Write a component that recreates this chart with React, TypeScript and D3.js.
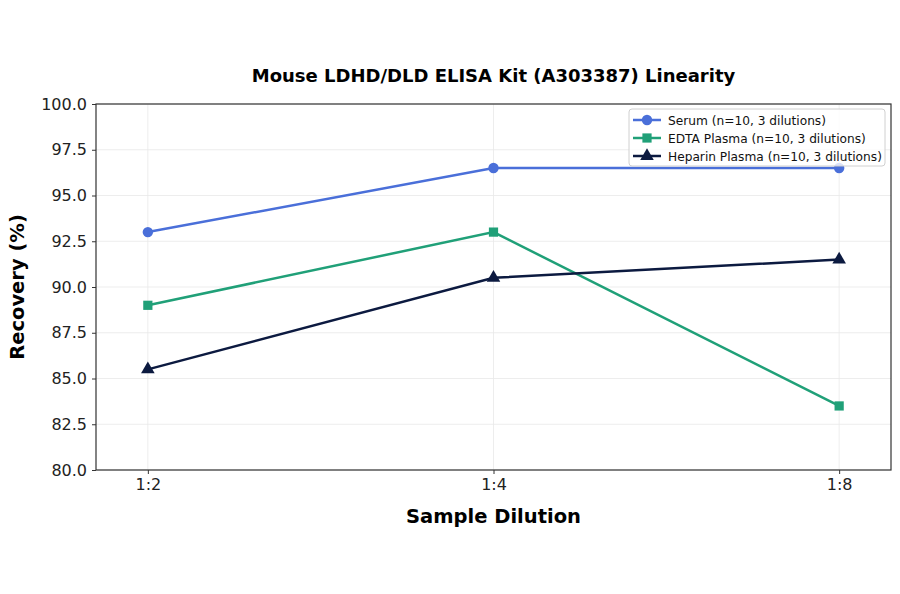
import * as d3 from "d3";
import React, { useEffect, useRef } from "react";

// chart data
const dilutions = ["1:2", "1:4", "1:8"];
const serumValues = [93.0, 96.5, 96.5];
const edtaValues = [89.0, 93.0, 83.5];
const heparinValues = [85.5, 90.5, 91.5];
const seriesNames = [
  "Serum (n=10, 3 dilutions)",
  "EDTA Plasma (n=10, 3 dilutions)",
  "Heparin Plasma (n=10, 3 dilutions)",
];
const yTicks = [80, 82.5, 85, 87.5, 90, 92.5, 95, 97.5, 100];

const width = 900;
const height = 594;
const margin = { top: 104, right: 9, bottom: 124, left: 96 };

const App: React.FC = () => {
  const svgRef = useRef<SVGSVGElement | null>(null);

  useEffect(() => {
    const svg = d3.select(svgRef.current);
    svg.selectAll("*").remove();
    svg.attr("width", width).attr("height", height).style("font-family", "'DejaVu Sans', sans-serif");

    const plotW = width - margin.left - margin.right;
    const plotH = height - margin.top - margin.bottom;

    const g = svg.append("g").attr("transform", `translate(${margin.left},${margin.top})`);

    const x = d3.scaleLinear().domain([-0.15, 2.15]).range([0, plotW]);
    const y = d3.scaleLinear().domain([80, 100]).range([plotH, 0]);

    // grid
    g.append("g")
      .selectAll("line")
      .data(yTicks)
      .enter()
      .append("line")
      .attr("x1", 0)
      .attr("x2", plotW)
      .attr("y1", (d) => y(d))
      .attr("y2", (d) => y(d))
      .attr("stroke", "#e8e8e8")
      .attr("stroke-width", 0.8);
    g.append("g")
      .selectAll("line")
      .data(dilutions)
      .enter()
      .append("line")
      .attr("x1", (_, i) => x(i))
      .attr("x2", (_, i) => x(i))
      .attr("y1", 0)
      .attr("y2", plotH)
      .attr("stroke", "#e8e8e8")
      .attr("stroke-width", 0.8);

    // series
    const series = [
      { name: seriesNames[0], values: serumValues, color: "#4a6fd9", shape: d3.symbolCircle, size: 85 },
      { name: seriesNames[1], values: edtaValues, color: "#20a078", shape: d3.symbolSquare, size: 85 },
      { name: seriesNames[2], values: heparinValues, color: "#0c1a40", shape: d3.symbolTriangle, size: 80 },
    ];

    const line = d3
      .line<number>()
      .x((_, i) => x(i))
      .y((d) => y(d));

    series.forEach((s) => {
      g.append("path")
        .attr("d", line(s.values)!)
        .attr("fill", "none")
        .attr("stroke", s.color)
        .attr("stroke-width", 2.5);
      g.selectAll(null)
        .data(s.values)
        .enter()
        .append("path")
        .attr("transform", (d, i) => `translate(${x(i)},${y(d)})`)
        .attr("d", d3.symbol().type(s.shape).size(s.size)()!)
        .attr("fill", s.color);
    });

    // frame
    g.append("rect")
      .attr("width", plotW)
      .attr("height", plotH)
      .attr("fill", "none")
      .attr("stroke", "#333")
      .attr("stroke-width", 1.2);

    // axes
    const xAxis = g
      .append("g")
      .attr("transform", `translate(0,${plotH})`)
      .call(
        d3
          .axisBottom(x)
          .tickValues([0, 1, 2])
          .tickFormat((d) => dilutions[d as number])
          .tickSizeOuter(0)
          .tickSize(4)
          .tickPadding(5)
      );
    xAxis.select(".domain").remove();
    xAxis.selectAll("line").attr("stroke", "#333");
    xAxis.selectAll("text").attr("font-size", 16).attr("fill", "#222").style("font-family", "'DejaVu Sans', sans-serif");

    const yAxis = g.append("g").call(
      d3
        .axisLeft(y)
        .tickValues(yTicks)
        .tickFormat(d3.format(".1f"))
        .tickSizeOuter(0)
        .tickSize(4)
        .tickPadding(5)
    );
    yAxis.select(".domain").remove();
    yAxis.selectAll("line").attr("stroke", "#333");
    yAxis.selectAll("text").attr("font-size", 16).attr("fill", "#222").style("font-family", "'DejaVu Sans', sans-serif");

    // title and labels
    svg
      .append("text")
      .attr("x", margin.left + plotW / 2)
      .attr("y", 82)
      .attr("text-anchor", "middle")
      .attr("font-size", 18)
      .attr("font-weight", "bold")
      .text("Mouse LDHD/DLD ELISA Kit (A303387) Linearity");

    svg
      .append("text")
      .attr("x", margin.left + plotW / 2)
      .attr("y", 523)
      .attr("text-anchor", "middle")
      .attr("font-size", 19.5)
      .attr("font-weight", "bold")
      .text("Sample Dilution");

    svg
      .append("text")
      .attr("transform", `translate(24,${margin.top + plotH / 2}) rotate(-90)`)
      .attr("text-anchor", "middle")
      .attr("font-size", 19.5)
      .attr("font-weight", "bold")
      .text("Recovery (%)");

    // legend
    const legend = svg.append("g").attr("transform", `translate(629,109)`);
    legend
      .append("rect")
      .attr("width", 256)
      .attr("height", 57)
      .attr("rx", 3)
      .attr("fill", "white")
      .attr("fill-opacity", 0.8)
      .attr("stroke", "#d0d0d0");
    series.forEach((s, i) => {
      const row = legend.append("g").attr("transform", `translate(0,${11 + i * 18})`);
      row.append("line").attr("x1", 4).attr("x2", 32).attr("stroke", s.color).attr("stroke-width", 2.5);
      row
        .append("path")
        .attr("transform", "translate(18,0)")
        .attr("d", d3.symbol().type(s.shape).size(s.size)()!)
        .attr("fill", s.color);
      row
        .append("text")
        .attr("x", 39)
        .attr("y", 4.5)
        .attr("font-size", 12.2)
        .attr("fill", "#111")
        .text(s.name);
    });
  }, []);

  return (
    <div style={{ position: "absolute", left: 0, top: 0, background: "white" }}>
      <svg ref={svgRef}></svg>
    </div>
  );
};

export default App;
